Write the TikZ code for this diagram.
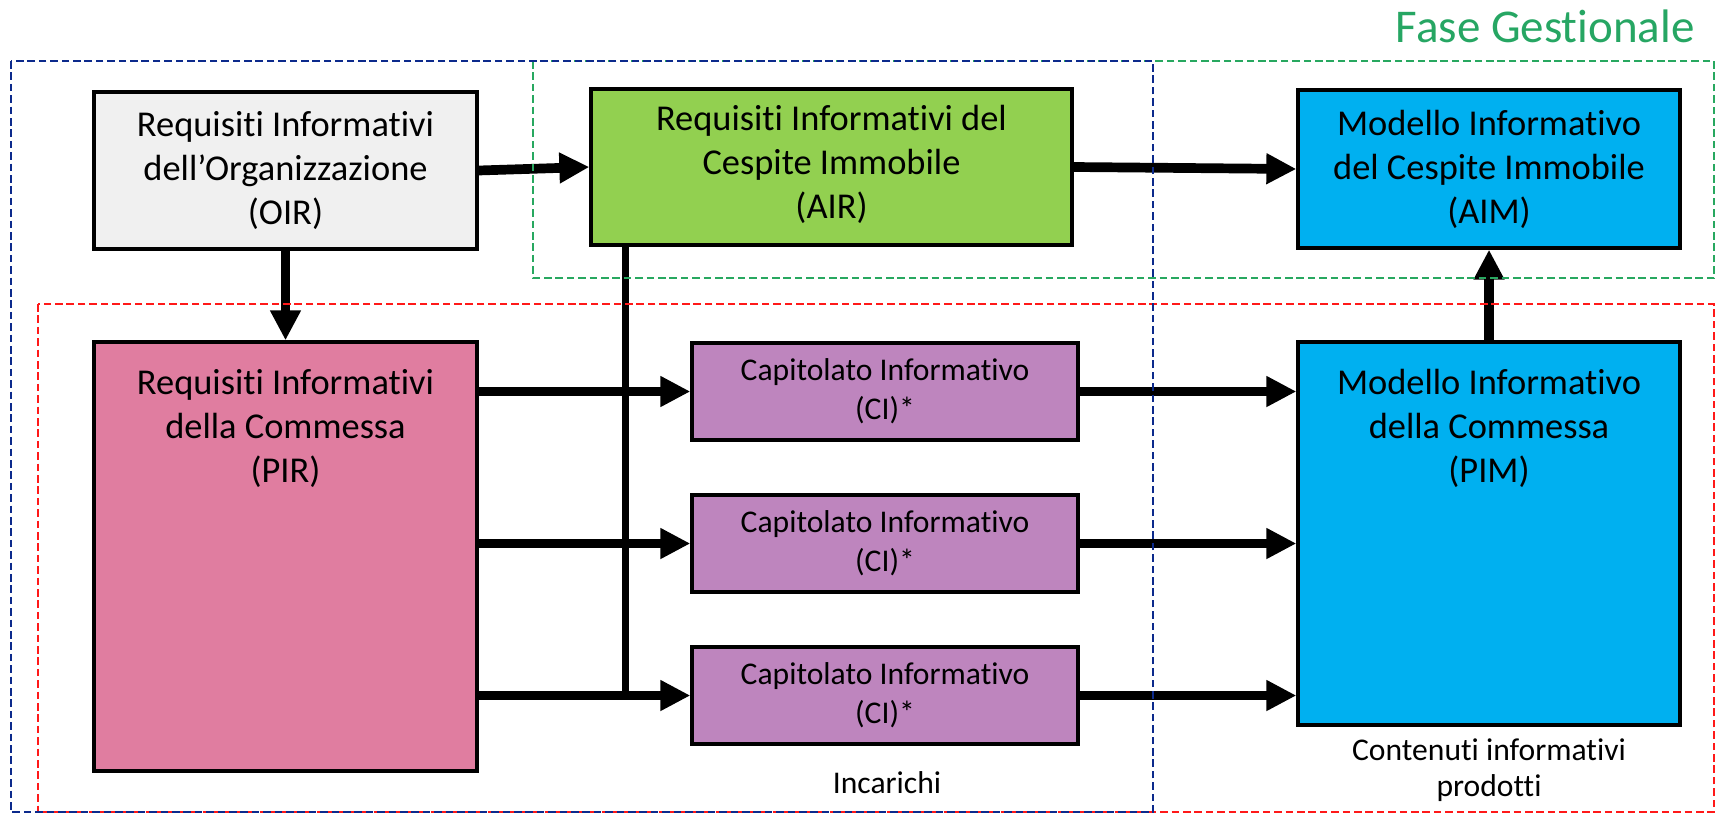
\documentclass[tikz,border=0pt]{standalone}
\usepackage{fontspec}
\setmainfont{Carlito}[Ligatures=NoCommon]
\usetikzlibrary{arrows.meta,fit,calc}

\definecolor{oirgray}{RGB}{240,240,240}
\definecolor{airgreen}{RGB}{146,208,80}
\definecolor{modelblue}{RGB}{0,176,240}
\definecolor{pirpink}{RGB}{224,125,160}
\definecolor{cipurple}{RGB}{190,133,190}
\definecolor{framenavy}{RGB}{12,42,140}
\definecolor{framegreen}{RGB}{40,168,96}
\definecolor{framered}{RGB}{255,25,25}
\definecolor{titlegreen}{RGB}{38,166,99}

\begin{document}
\begin{tikzpicture}[x=0.5pt,y=-0.5pt,
  box/.style={draw=black, line width=1.65pt, inner sep=0pt},
  boxtext/.style={align=center, inner sep=0pt, font=\fontsize{18.2}{22}\selectfont},
  citext/.style={align=center, inner sep=0pt, font=\fontsize{15.8}{19.3}\selectfont},
  arr/.style={line width=4.85pt, -{Triangle[length=15pt,width=14.5pt]}},
  feed/.style={line width=3.5pt},
  frame/.style={line width=1.2pt, dash pattern=on 3.8pt off 1.9pt},
  note/.style={align=center, inner sep=0pt, font=\fontsize{15.8}{18.3}\selectfont},
]
\useasboundingbox (0,0) rectangle (1716,814);

% information requirement and model boxes
\node[box, fill=oirgray, fit={(94,92)(477,249)}] (oir) {};
\node[boxtext] (oirtext) at (oir.center)
  {Requisiti Informativi\\dell’Organizzazione\\(OIR)};
\node[box, fill=airgreen, fit={(591,89)(1072,245)}] (air) {};
\node[boxtext] (airtext) at ($(air.center)+(0,-3)$)
  {Requisiti Informativi del\\Cespite Immobile\\(AIR)};
\node[box, fill=modelblue, fit={(1298,90)(1680,248)}] (aim) {};
\node[boxtext] (aimtext) at (aim.center)
  {Modello Informativo\\del Cespite Immobile\\(AIM)};
\node[box, fill=pirpink, fit={(94,342)(477,771)}] (pir) {};
\node[boxtext] (pirtext) at (285.5,428)
  {Requisiti Informativi\\della Commessa\\(PIR)};
\node[box, fill=modelblue, fit={(1298,342)(1680,725)}] (pim) {};
\node[boxtext] (pimtext) at (1489,428)
  {Modello Informativo\\della Commessa\\(PIM)};

% information specifications (one per appointment)
\foreach \i/\top in {1/343,2/495,3/647}{
  \node[box, fill=cipurple, fit={(692,\top)(1078,\top+97)}] (ci\i) {};
  \node[citext] (ci\i text) at (ci\i.center) {Capitolato Informativo\\(CI)*};
}

% captions
\node[anchor=base east, inner sep=0pt, text=titlegreen,
      font=\fontsize{23.5}{28}\selectfont] (fase) at (1695,42) {Fase Gestionale};
\node[note, anchor=base] (inc) at (887,793) {Incarichi};
\node[note] (cont) at (1489,770) {Contenuti informativi\\prodotti};

% AIR feeding the appointments
\coordinate (split) at ($(air.south west)+(36,0)$);
\coordinate (join) at (split |- ci3.west);
\draw[feed] (split) -- (join);

% flows
\draw[arr] (oir.east) -- (air.west);
\draw[arr] (air.east) -- (aim.west);
\draw[arr] (oir.south) -- (pir.north);
\draw[arr] (pim.north) -- (aim.south);
\foreach \c in {ci1,ci2,ci3}{
  \draw[arr] (pir.east |- \c.west) -- (\c.west);
  \draw[arr] (\c.east) -- (pim.west |- \c.east);
}

% phase frames
\draw[frame, draw=framered] (38,304) rectangle (1714,812);
\draw[frame, draw=framegreen] (533,61) rectangle (1714,278);
\draw[frame, draw=framenavy, line width=1.35pt] (11,61) rectangle (1153,812);
\end{tikzpicture}
\end{document}
